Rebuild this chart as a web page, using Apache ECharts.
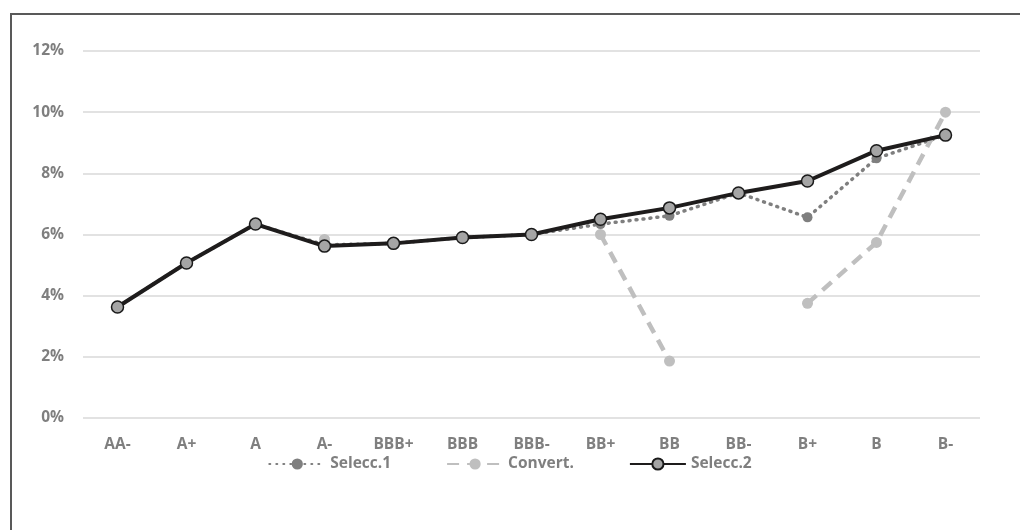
<!DOCTYPE html>
<html>
<head>
<meta charset="utf-8">
<script src="https://cdn.jsdelivr.net/npm/echarts@6/dist/echarts.min.js"></script>
<style>
  html, body { margin: 0; padding: 0; background: #fff; overflow: hidden; }
  #frame { position: absolute; left: 10px; top: 13px; width: 1030px; height: 540px;
           border-left: 2px solid #595959; border-top: 2px solid #595959; box-sizing: border-box; }
  #chart { position: absolute; left: 0; top: 0; width: 1020px; height: 530px; }
</style>
</head>
<body>
<div id="frame"></div>
<div id="chart"></div>
<script>
// Rating buckets along the x axis
const ratings = ['AA-', 'A+', 'A', 'A-', 'BBB+', 'BBB', 'BBB-', 'BB+', 'BB', 'BB-', 'B+', 'B', 'B-'];

// Yields per bucket, in percent (null = no observation)
const selecc1 = [3.63, 5.07, 6.34, 5.66, 5.71, 5.90, 6.00, 6.34, 6.61, 7.36, 6.56, 8.49, 9.25];
const convert = [null, null, null, 5.84, null, null, null, 6.00, 1.86, null, 3.75, 5.74, 10.00];
const selecc2 = [3.63, 5.07, 6.34, 5.62, 5.71, 5.90, 6.00, 6.50, 6.87, 7.36, 7.75, 8.74, 9.25];

const yTicks = [0, 2, 4, 6, 8, 10, 12];

const labelFont = { color: '#7f7f7f', fontFamily: 'Open Sans', fontWeight: 'bold', fontSize: 15.5 };

const chart = echarts.init(document.getElementById('chart'), null, { renderer: 'canvas' });
chart.setOption({
  animation: false,
  grid: { left: 83, right: 40, top: 51, bottom: 112, containLabel: false },
  legend: {
    top: 451,
    left: 'center',
    itemGap: 55,
    itemWidth: 56,
    itemHeight: 14,
    textStyle: labelFont,
    data: ['Selecc.1', 'Convert.', 'Selecc.2']
  },
  xAxis: {
    type: 'category',
    data: ratings,
    boundaryGap: true,
    axisLine: { show: false },
    axisTick: { show: false },
    axisLabel: Object.assign({ margin: 19 }, labelFont)
  },
  yAxis: {
    type: 'value',
    min: yTicks[0],
    max: yTicks[yTicks.length - 1],
    interval: 2,
    axisLine: { show: false },
    axisTick: { show: false },
    axisLabel: Object.assign({ margin: 19, formatter: v => v + '%' }, labelFont),
    splitLine: { lineStyle: { color: '#d9d9d9', width: 1.5 } }
  },
  series: [
    {
      name: 'Selecc.1',
      type: 'line',
      data: selecc1,
      symbol: 'circle',
      symbolSize: 10,
      z: 2,
      itemStyle: { color: '#7f7f7f' },
      lineStyle: { color: '#7f7f7f', width: 3.5, type: [1, 6], cap: 'round' }
    },
    {
      name: 'Convert.',
      type: 'line',
      data: convert,
      connectNulls: false,
      showSymbol: true,
      symbol: 'circle',
      symbolSize: 11,
      z: 2,
      itemStyle: { color: '#bfbfbf' },
      lineStyle: { color: '#bfbfbf', width: 4.5, type: [12, 8] }
    },
    {
      name: 'Selecc.2',
      type: 'line',
      data: selecc2,
      symbol: 'circle',
      symbolSize: 12,
      z: 3,
      itemStyle: { color: '#a5a5a5', borderColor: '#1a1a1a', borderWidth: 1.5 },
      lineStyle: { color: '#1e1c1c', width: 4 }
    }
  ]
});
</script>
</body>
</html>
